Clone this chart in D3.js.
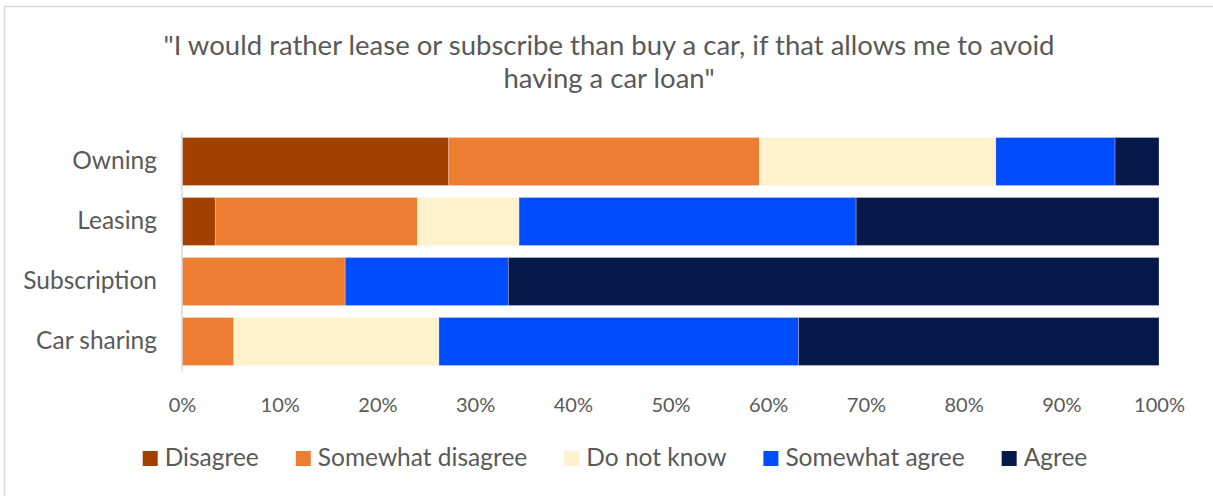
<!DOCTYPE html>
<html>
<head>
<meta charset="utf-8">
<script src="https://cdn.jsdelivr.net/npm/d3@7"></script>
<style>
  body { margin: 0; background: #fff; }
  text { font-family: Lato, "Open Sans", sans-serif; fill: #595959; }
</style>
</head>
<body>
<div id="container"></div>
<script>
// Data
const categories = ["Owning", "Leasing", "Subscription", "Car sharing"];
const seriesNames = ["Disagree", "Somewhat disagree", "Do not know", "Somewhat agree", "Agree"];
const disagree         = [27.3, 3.4, 0, 0];
const somewhatDisagree = [31.8, 20.7, 16.7, 5.3];
const doNotKnow        = [24.2, 10.4, 0, 21.0];
const somewhatAgree    = [12.2, 34.5, 16.7, 36.8];
const agree            = [4.5, 31.0, 66.6, 36.9];
const tickValues = [0, 10, 20, 30, 40, 50, 60, 70, 80, 90, 100];
const colors = ["#A34000", "#ED7D31", "#FFF2CC", "#004CFF", "#07194B"];

const width = 1213, height = 496;
const margin = { left: 182, right: 54, top: 131.5, bottom: 124.5 };

const svg = d3.select("div#container")
  .append("svg")
  .attr("width", width)
  .attr("height", height);

// chart border
svg.append("rect")
  .attr("x", 4.5).attr("y", 6.5)
  .attr("width", width + 20).attr("height", height + 20)
  .attr("fill", "none")
  .attr("stroke", "#d9d9d9")
  .attr("stroke-width", 1.5);

// Title
const title = svg.append("text")
  .attr("text-anchor", "middle")
  .style("font-size", "27.5px");
title.append("tspan").attr("x", 609).attr("y", 55)
  .text("\"I would rather lease or subscribe than buy a car, if that allows me to avoid");
title.append("tspan").attr("x", 609).attr("y", 88)
  .text("having a car loan\"");

// Build table
const table = categories.map((c, i) => ({
  category: c,
  "Disagree": disagree[i],
  "Somewhat disagree": somewhatDisagree[i],
  "Do not know": doNotKnow[i],
  "Somewhat agree": somewhatAgree[i],
  "Agree": agree[i]
}));
const stacked = d3.stack().keys(seriesNames)(table);

// Scales
const x = d3.scaleLinear().domain([0, 100]).range([margin.left, width - margin.right]);
const y = d3.scaleBand().domain(categories)
  .range([margin.top, height - margin.bottom])
  .paddingInner(0.2).paddingOuter(0.1);
const color = d3.scaleOrdinal().domain(seriesNames).range(colors);

// Bars
svg.append("g")
  .selectAll("g")
  .data(stacked)
  .join("g")
  .attr("fill", (d) => color(d.key))
  .selectAll("rect")
  .data((d) => d)
  .join("rect")
  .attr("x", (d) => x(d[0]))
  .attr("y", (d) => y(d.data.category))
  .attr("width", (d) => x(d[1]) - x(d[0]))
  .attr("height", y.bandwidth())
  .attr("stroke", "#fff")
  .attr("stroke-opacity", 0.35)
  .attr("stroke-width", 0.75);

// Vertical axis line
svg.append("line")
  .attr("x1", margin.left).attr("x2", margin.left)
  .attr("y1", margin.top).attr("y2", height - margin.bottom)
  .attr("stroke", "#d9d9d9")
  .attr("stroke-width", 1.5);

// Category labels
const yAxis = svg.append("g")
  .attr("transform", `translate(${margin.left},0)`)
  .call(d3.axisLeft(y).tickSize(0).tickPadding(25));
yAxis.select(".domain").remove();
yAxis.selectAll("text")
  .style("font-size", "24.5px")
  .style("font-family", "Lato, sans-serif")
  .attr("fill", "#595959");

// X tick labels
const xAxis = svg.append("g")
  .attr("transform", `translate(0,${height - margin.bottom})`)
  .call(d3.axisBottom(x).tickValues(tickValues).tickSize(0).tickPadding(26)
    .tickFormat((d) => d + "%"));
xAxis.select(".domain").remove();
xAxis.selectAll("text")
  .style("font-size", "20px")
  .style("font-family", "Lato, sans-serif")
  .attr("fill", "#595959");

// Legend
const legend = svg.append("g");
const items = legend.selectAll("g")
  .data(seriesNames)
  .join("g");
items.append("rect")
  .attr("width", 15).attr("height", 15)
  .attr("y", 451)
  .attr("fill", (d) => color(d));
items.append("text")
  .attr("x", 22).attr("y", 466)
  .style("font-size", "24.5px")
  .text((d) => d);

let pos = 0;
const offsets = [];
items.each(function () {
  offsets.push(pos);
  const w = d3.select(this).select("text").node().getComputedTextLength();
  pos += 22 + w + 37;
});
const total = pos - 37;
const start = 615 - total / 2;
items.attr("transform", (d, i) => `translate(${start + offsets[i]},0)`);
</script>
</body>
</html>
